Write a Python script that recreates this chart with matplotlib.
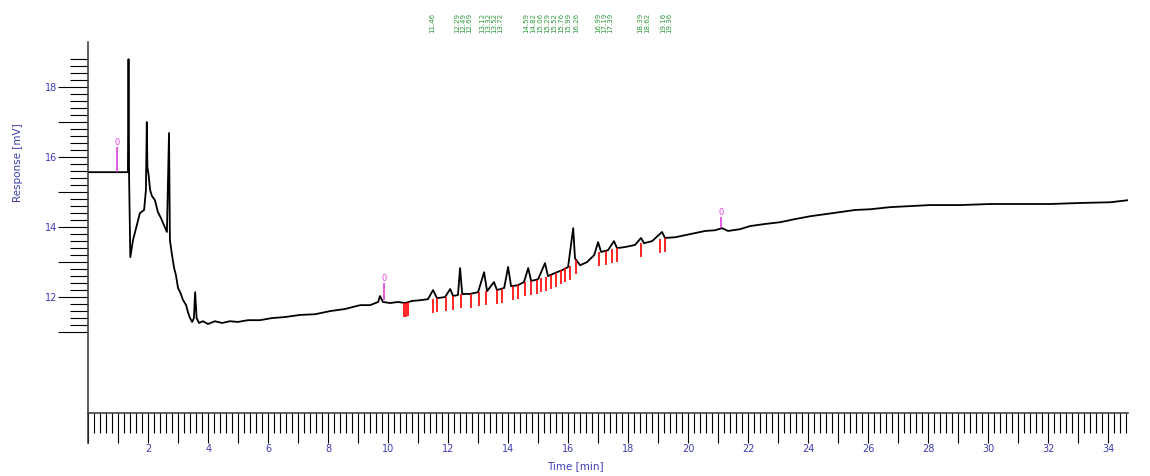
import matplotlib.pyplot as plt
import numpy as np
from matplotlib.ticker import FixedLocator, FuncFormatter

# detector trace: time [min], response [mV]
trace_t = [0.00, 1.32, 1.34, 1.36, 1.40, 1.49, 1.59, 1.72, 1.86, 1.92, 1.95, 1.97, 2.01, 2.06,
           2.12, 2.22, 2.32, 2.42, 2.52, 2.62, 2.69, 2.72, 2.79, 2.86, 2.92, 2.99, 3.06, 3.16,
           3.26, 3.32, 3.39, 3.46, 3.52, 3.56, 3.61, 3.69, 3.82, 3.99, 4.22, 4.46, 4.72, 4.99,
           5.32, 5.72, 6.12, 6.56, 7.06, 7.56, 8.06, 8.56, 9.06, 9.39, 9.66, 9.72, 9.82, 10.06,
           10.32, 10.56, 10.79, 11.06, 11.32, 11.49, 11.62, 11.89, 12.06, 12.16, 12.32, 12.39,
           12.46, 12.72, 12.99, 13.19, 13.29, 13.52, 13.62, 13.86, 13.99, 14.09, 14.32, 14.52,
           14.66, 14.76, 14.99, 15.22, 15.32, 15.56, 15.79, 15.99, 16.16, 16.22, 16.39, 16.62,
           16.86, 16.99, 17.09, 17.32, 17.52, 17.62, 17.89, 18.22, 18.42, 18.52, 18.79, 19.12,
           19.22, 19.56, 20.06, 20.56, 20.89, 21.12, 21.32, 21.72, 22.06, 22.56, 23.06, 23.56,
           24.06, 24.56, 25.06, 25.56, 26.06, 26.72, 27.39, 28.06, 29.06, 30.06, 31.06, 32.06,
           33.06, 34.06, 34.66]
trace_v = [15.57, 15.57, 18.80, 15.40, 13.14, 13.63, 13.97, 14.40, 14.49, 15.06, 17.00, 15.71, 15.49, 15.06,
           14.89, 14.77, 14.43, 14.26, 14.06, 13.86, 16.69, 13.63, 13.20, 12.83, 12.63, 12.26, 12.14, 11.91,
           11.77, 11.57, 11.40, 11.29, 11.40, 12.14, 11.40, 11.26, 11.31, 11.23, 11.31, 11.26, 11.31, 11.29,
           11.34, 11.34, 11.40, 11.43, 11.49, 11.51, 11.60, 11.66, 11.77, 11.77, 11.86, 12.03, 11.86, 11.83,
           11.86, 11.83, 11.89, 11.91, 11.94, 12.20, 11.97, 12.00, 12.23, 12.03, 12.06, 12.83,
           12.09, 12.09, 12.14, 12.71, 12.17, 12.43, 12.20, 12.26, 12.86, 12.31, 12.34, 12.43,
           12.83, 12.46, 12.51, 12.97, 12.60, 12.69, 12.77, 12.86, 13.97, 13.11, 12.91, 13.00,
           13.20, 13.57, 13.29, 13.34, 13.60, 13.40, 13.43, 13.49, 13.69, 13.54, 13.60, 13.86,
           13.69, 13.71, 13.80, 13.89, 13.91, 13.97, 13.89, 13.94, 14.03, 14.09, 14.14, 14.23,
           14.31, 14.37, 14.43, 14.49, 14.51, 14.57, 14.60, 14.63, 14.63, 14.66, 14.66, 14.66,
           14.69, 14.71, 14.77]

# integration marks (start/end of peaks)
mark_t = [10.52, 10.59, 10.66, 11.49, 11.62, 11.92, 12.16, 12.42, 12.76, 13.02, 13.26, 13.62,
          13.79, 14.16, 14.32, 14.56, 14.76, 14.96, 15.09, 15.26, 15.42, 15.59, 15.76, 15.89,
          16.06, 16.26, 17.02, 17.26, 17.46, 17.62, 18.42, 19.06, 19.22]
mark_v = [11.84, 11.84, 11.85, 11.95, 11.97, 12.00, 12.03, 12.08, 12.10, 12.14, 12.17, 12.20,
          12.24, 12.32, 12.34, 12.44, 12.46, 12.50, 12.54, 12.58, 12.64, 12.70, 12.76, 12.82,
          12.88, 13.05, 13.30, 13.33, 13.37, 13.40, 13.54, 13.65, 13.69]

# peak retention times printed above the plot
peak_t = [11.46, 12.29, 12.49, 12.69, 13.12, 13.32, 13.52, 13.72, 14.59, 14.82, 15.06, 15.29,
          15.52, 15.76, 15.99, 16.26, 16.99, 17.19, 17.39, 18.39, 18.62, 19.16, 19.36]

# timed events
event_t = [0.95, 9.86, 21.09]
event_lo = [15.57, 11.91, 13.97]
event_hi = [16.29, 12.40, 14.29]

blue = '#3c3cb4'

fig = plt.figure(figsize=(11.5, 4.76), dpi=100)
ax = fig.add_axes([88.3/1150, 33/476, 1040/1150, 401/476])

ax.plot(trace_t, trace_v, color='black', lw=1.3)
ax.vlines(mark_t, np.array(mark_v) - 0.4, mark_v, color='red', lw=1.2)
ax.vlines(event_t, event_lo, event_hi, color='#e040e0', lw=1.2)
for t, v in zip(event_t, event_hi):
    ax.text(t, v, '0', color='#e040e0', fontsize=6, ha='center', va='bottom')
for t in peak_t:
    ax.text(t, 1.072, '%.2f' % t, transform=ax.get_xaxis_transform(), rotation=90,
            color='#2e9a3a', fontsize=5, ha='center', va='top', clip_on=False)

ax.set_xlim(0, 34.66)
ax.set_ylim(7.83, 19.29)
ax.spines['top'].set_visible(False)
ax.spines['right'].set_visible(False)
ax.spines['bottom'].set_position(('data', 8.686))
for s in ['left', 'bottom']:
    ax.spines[s].set_linewidth(1.1)
    ax.spines[s].set_color('#333333')

ax.xaxis.set_major_locator(FixedLocator(np.arange(0, 35, 1)))
ax.xaxis.set_minor_locator(FixedLocator(np.arange(0, 34.61, 0.2)))
ax.xaxis.set_major_formatter(FuncFormatter(lambda v, p: '%d' % v if v % 2 == 0 and v > 0 else ''))
ax.yaxis.set_major_locator(FixedLocator(np.arange(11, 19, 1)))
ax.yaxis.set_minor_locator(FixedLocator(np.arange(11, 18.81, 0.2)))
ax.yaxis.set_major_formatter(FuncFormatter(lambda v, p: '%d' % v if v % 2 == 0 else ''))

ax.tick_params(axis='x', which='major', length=21.6, width=0.8, pad=1, labelsize=7, labelcolor=blue)
ax.tick_params(axis='x', which='minor', length=14.4, width=0.8)
ax.tick_params(axis='y', which='major', length=21.6, width=0.8, pad=1, labelsize=7, labelcolor=blue)
ax.tick_params(axis='y', which='minor', length=13, width=0.8)

fig.text(575/1150, 1 - 466/476, 'Time [min]', color=blue, fontsize=7.5, ha='center', va='center')
fig.text(18/1150, 1 - 163/476, 'Response [mV]', color=blue, fontsize=7.5, rotation=90,
         ha='center', va='center')

fig.savefig('out.png', dpi=100)
